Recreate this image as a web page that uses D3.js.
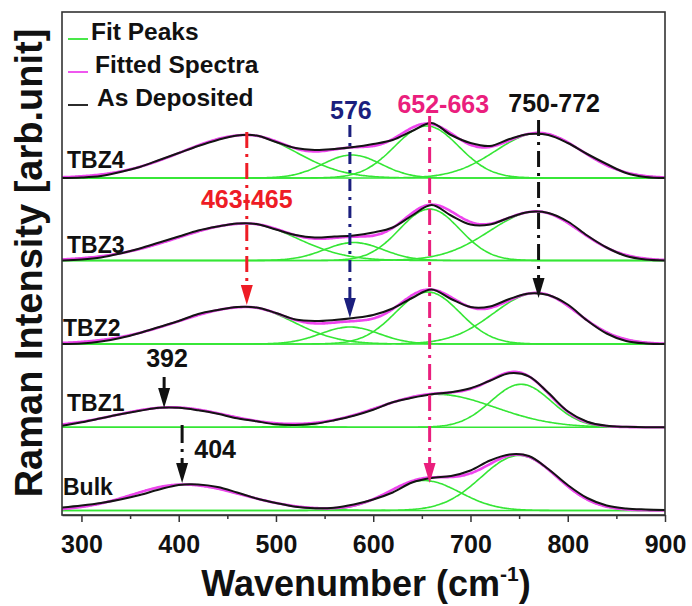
<!DOCTYPE html>
<html>
<head>
<meta charset="utf-8">
<script src="https://cdnjs.cloudflare.com/ajax/libs/d3/7.8.5/d3.min.js"></script>
<style>
  html, body { margin: 0; padding: 0; background: #fff; }
  svg text { font-family: "Liberation Sans", Arial, sans-serif; font-weight: bold; }
</style>
</head>
<body>
<div id="chart"></div>
<script>
// Raman spectra of the bulk and the TBZ films, stacked with offsets

// wavenumber grid (cm-1) of the measured spectra
const wavenumbers = [280, 300, 320, 340, 360, 380, 400, 420, 440, 460, 480, 500,
  520, 540, 560, 580, 600, 620, 640, 660, 680, 700, 720, 740, 760, 780, 800,
  820, 840, 860, 880, 900];

const samples = ['Bulk', 'TBZ1', 'TBZ2', 'TBZ3', 'TBZ4'];

// vertical offset of each spectrum (arb. unit)
const offsets = [4.5, 87.7, 171, 254.5, 337];

// measured ("as deposited") intensity above each offset
const bulkMeasured = [3, 5, 7.5, 11, 15.5, 21, 25.5, 26, 23.5, 18, 12, 7.5,
  3.8, 2.2, 2.8, 6, 11, 18, 28, 32.5, 34.5, 40, 50, 56, 54.5, 41.5, 25.5,
  12.5, 5, 2, 1, 0.5];
const tbz1Measured = [1.5, 5, 9, 13, 16.5, 19.5, 19.5, 17, 13.5, 9, 6, 3,
  2.3, 3.5, 7, 11.5, 17.5, 25, 29.5, 33, 35, 39, 46.5, 54, 51, 34.5, 16,
  5.5, 1.5, 0.5, 0, 0];
const tbz2Measured = [0, 0.5, 2.5, 6, 11, 17, 23, 30, 34, 37, 36.5, 31,
  24.5, 23, 24, 26, 29, 35.5, 46, 54.5, 45, 37, 37.5, 45, 50.5, 49, 39.5,
  23.5, 10.5, 3, 0.5, 0];
const tbz3Measured = [0, 1, 3, 7, 12, 18, 24, 30, 34, 37, 36.5, 31,
  25.5, 23, 24, 25, 28, 33, 45, 55.5, 45, 36, 36, 43, 48.5, 47.5, 39,
  25, 13, 4.5, 1, 0];
const tbz4Measured = [0, 0.5, 2, 6, 11, 18, 25, 32, 38, 42.5, 42.5, 36,
  30, 28, 29, 31, 34, 38, 47, 55, 43, 35, 32, 39, 44, 43, 35,
  24, 14, 5, 1, 0];
const measured = [bulkMeasured, tbz1Measured, tbz2Measured, tbz3Measured, tbz4Measured];

// fitted peaks: [centre cm-1, height, left width, right width]
const bulkPeaks = [[404, 26, 52, 61], [652, 30, 37, 37], [750, 55, 39, 39]];
const tbz1Peaks = [[392, 20, 57, 57], [665, 33, 60, 60], [752, 43, 31, 31]];
const tbz2Peaks = [[470, 37, 71, 47], [576, 17, 30, 30], [656, 52, 33, 33], [768, 51, 44, 42]];
const tbz3Peaks = [[470, 37, 72, 51], [580, 18, 30, 30], [658, 51.5, 31, 31], [768, 49, 48, 44]];
const tbz4Peaks = [[470, 43, 67, 50], [578, 23, 30, 30], [655, 52, 33, 33], [770, 45, 44, 44]];
const peaks = [bulkPeaks, tbz1Peaks, tbz2Peaks, tbz3Peaks, tbz4Peaks];

const xTicks = [300, 400, 500, 600, 700, 800, 900];
const xMinorTicks = [350, 450, 550, 650, 750, 850];

// band markers: label, colour, wavenumber, line top, arrow tip (arb. unit)
const markers = [
  { label: '463-465', color: '#ee1c25', x: 470, top: 383, tip: 210, lx: 470, ly: 307, dash: '16,6,3,6' },
  { label: '576', color: '#1b1f7e', x: 576, top: 390, tip: 197, lx: 577, ly: 396, dash: '12,6,3,6' },
  { label: '652-663', color: '#ea1e7d', x: 658, top: 399, tip: 32, lx: 672, ly: 402, dash: '16,6,3,6' },
  { label: '750-772', color: '#111111', x: 770, top: 395, tip: 217, lx: 786, ly: 403, dash: '16,6,3,6' },
  { label: '392', color: '#111111', x: 385, top: 138, tip: 107, lx: 388, ly: 148, dash: null },
  { label: '404', color: '#111111', x: 403.5, top: 90, tip: 32, lx: 416, ly: 57, dash: '18,6,3,6', anchor: 'start' }
];

const width = 692, height = 606;
const margin = { top: 12, right: 27, bottom: 91, left: 62 };

const svg = d3.select('#chart').append('svg')
  .attr('width', width)
  .attr('height', height);

const x = d3.scaleLinear()
  .domain([280, 900])
  .range([margin.left, width - margin.right]);

const y = d3.scaleLinear()
  .domain([0, 503])
  .range([height - margin.bottom, margin.top]);

svg.append('clipPath').attr('id', 'plot-clip')
  .append('rect')
  .attr('x', margin.left).attr('y', margin.top)
  .attr('width', x.range()[1] - margin.left)
  .attr('height', y.range()[0] - margin.top);

// one fitted band
function band(p, w) {
  const s = w < p[0] ? p[2] : p[3];
  return p[1] * Math.exp(-((w - p[0]) ** 2) / (2 * s * s));
}

const fine = d3.range(280, 900.5, 2);
const smooth = d3.line().curve(d3.curveCatmullRom.alpha(0.5));

const plot = svg.append('g').attr('clip-path', 'url(#plot-clip)');

samples.forEach((name, i) => {
  const base = offsets[i];
  const g = plot.append('g').attr('class', 'spectrum ' + name);

  // fit peaks
  peaks[i].forEach(p => {
    g.append('path')
      .attr('fill', 'none')
      .attr('stroke', '#35e635')
      .attr('stroke-width', 1.6)
      .attr('d', smooth(fine.map(w => [x(w), y(base + band(p, w))])));
  });

  // fitted spectrum = sum of the peaks
  g.append('path')
    .attr('fill', 'none')
    .attr('stroke', '#ee44ee')
    .attr('stroke-width', 2.6)
    .attr('d', smooth(fine.map(w => [x(w), y(base + d3.sum(peaks[i], p => band(p, w)))])));

  // measured spectrum
  g.append('path')
    .attr('fill', 'none')
    .attr('stroke', '#141414')
    .attr('stroke-width', 2)
    .attr('d', smooth(wavenumbers.map((w, k) => [x(w), y(base + measured[i][k])])));
});

// sample names
const nameShift = [-16, -16, -8, -7.5, -10];
const nameX = [63, 67, 63, 67, 67];
samples.forEach((name, i) => {
  svg.append('text')
    .attr('x', nameX[i])
    .attr('y', y(offsets[i]) + nameShift[i])
    .attr('font-size', '23px')
    .attr('fill', '#111')
    .text(name);
});

// band markers
markers.forEach(m => {
  const px = x(m.x), headLen = 20, headW = 6;
  svg.append('line')
    .attr('x1', px).attr('x2', px)
    .attr('y1', y(m.top)).attr('y2', y(m.tip) - headLen + 1)
    .attr('stroke', m.color)
    .attr('stroke-width', 3)
    .attr('stroke-dasharray', m.dash);
  svg.append('path')
    .attr('fill', m.color)
    .attr('d', `M${px - headW},${y(m.tip) - headLen}L${px + headW},${y(m.tip) - headLen}L${px},${y(m.tip)}Z`);
  svg.append('text')
    .attr('x', x(m.lx))
    .attr('y', y(m.ly))
    .attr('text-anchor', m.anchor || 'middle')
    .attr('font-size', '25px')
    .attr('fill', m.color)
    .text(m.label);
});

// frame
svg.append('rect')
  .attr('x', margin.left).attr('y', margin.top)
  .attr('width', x.range()[1] - margin.left)
  .attr('height', y.range()[0] - margin.top)
  .attr('fill', 'none')
  .attr('stroke', '#333')
  .attr('stroke-width', 1.6);

// x axis
const xAxis = svg.append('g')
  .attr('transform', `translate(0,${y.range()[0]})`)
  .call(d3.axisBottom(x).tickValues(xTicks).tickSize(7).tickSizeOuter(0).tickPadding(13)
    .tickFormat(d3.format('d')));
xAxis.select('.domain').attr('stroke', '#333').attr('stroke-width', 1.6);
xAxis.selectAll('.tick line').attr('stroke', '#333').attr('stroke-width', 1.5);
xAxis.selectAll('.tick text')
  .attr('font-size', '25px')
  .attr('font-family', '"Liberation Sans", Arial, sans-serif')
  .attr('font-weight', 'bold')
  .attr('fill', '#111');

const xMinor = svg.append('g')
  .attr('transform', `translate(0,${y.range()[0]})`)
  .call(d3.axisBottom(x).tickValues(xMinorTicks).tickSize(4).tickSizeOuter(0).tickFormat(''));
xMinor.select('.domain').remove();
xMinor.selectAll('.tick line').attr('stroke', '#333').attr('stroke-width', 1.5);

// axis titles
const xTitle = svg.append('text')
  .attr('x', 366)
  .attr('y', 596)
  .attr('text-anchor', 'middle')
  .attr('font-size', '36px')
  .attr('fill', '#111');
xTitle.append('tspan').text('Wavenumber (cm');
xTitle.append('tspan').attr('font-size', '21px').attr('dy', -15).text('-1');
xTitle.append('tspan').attr('dy', 15).text(')');

svg.append('text')
  .attr('transform', 'translate(42,263) rotate(-90)')
  .attr('text-anchor', 'middle')
  .attr('font-size', '38px')
  .attr('fill', '#111')
  .text('Raman Intensity [arb.unit]');

// legend
const legendItems = [
  { label: 'Fit Peaks', color: '#35e635', dx: 91 },
  { label: 'Fitted Spectra', color: '#ee44ee', dx: 95 },
  { label: 'As Deposited', color: '#141414', dx: 97 }
];
const legend = svg.append('g');
legendItems.forEach((d, i) => {
  const ly = 40 + i * 33;
  legend.append('line')
    .attr('x1', 68).attr('x2', 88)
    .attr('y1', ly - 1).attr('y2', ly - 1)
    .attr('stroke', d.color)
    .attr('stroke-width', 1.8);
  legend.append('text')
    .attr('x', d.dx)
    .attr('y', ly)
    .attr('font-size', '24.5px')
    .attr('fill', '#111')
    .text(d.label);
});
</script>
</body>
</html>
